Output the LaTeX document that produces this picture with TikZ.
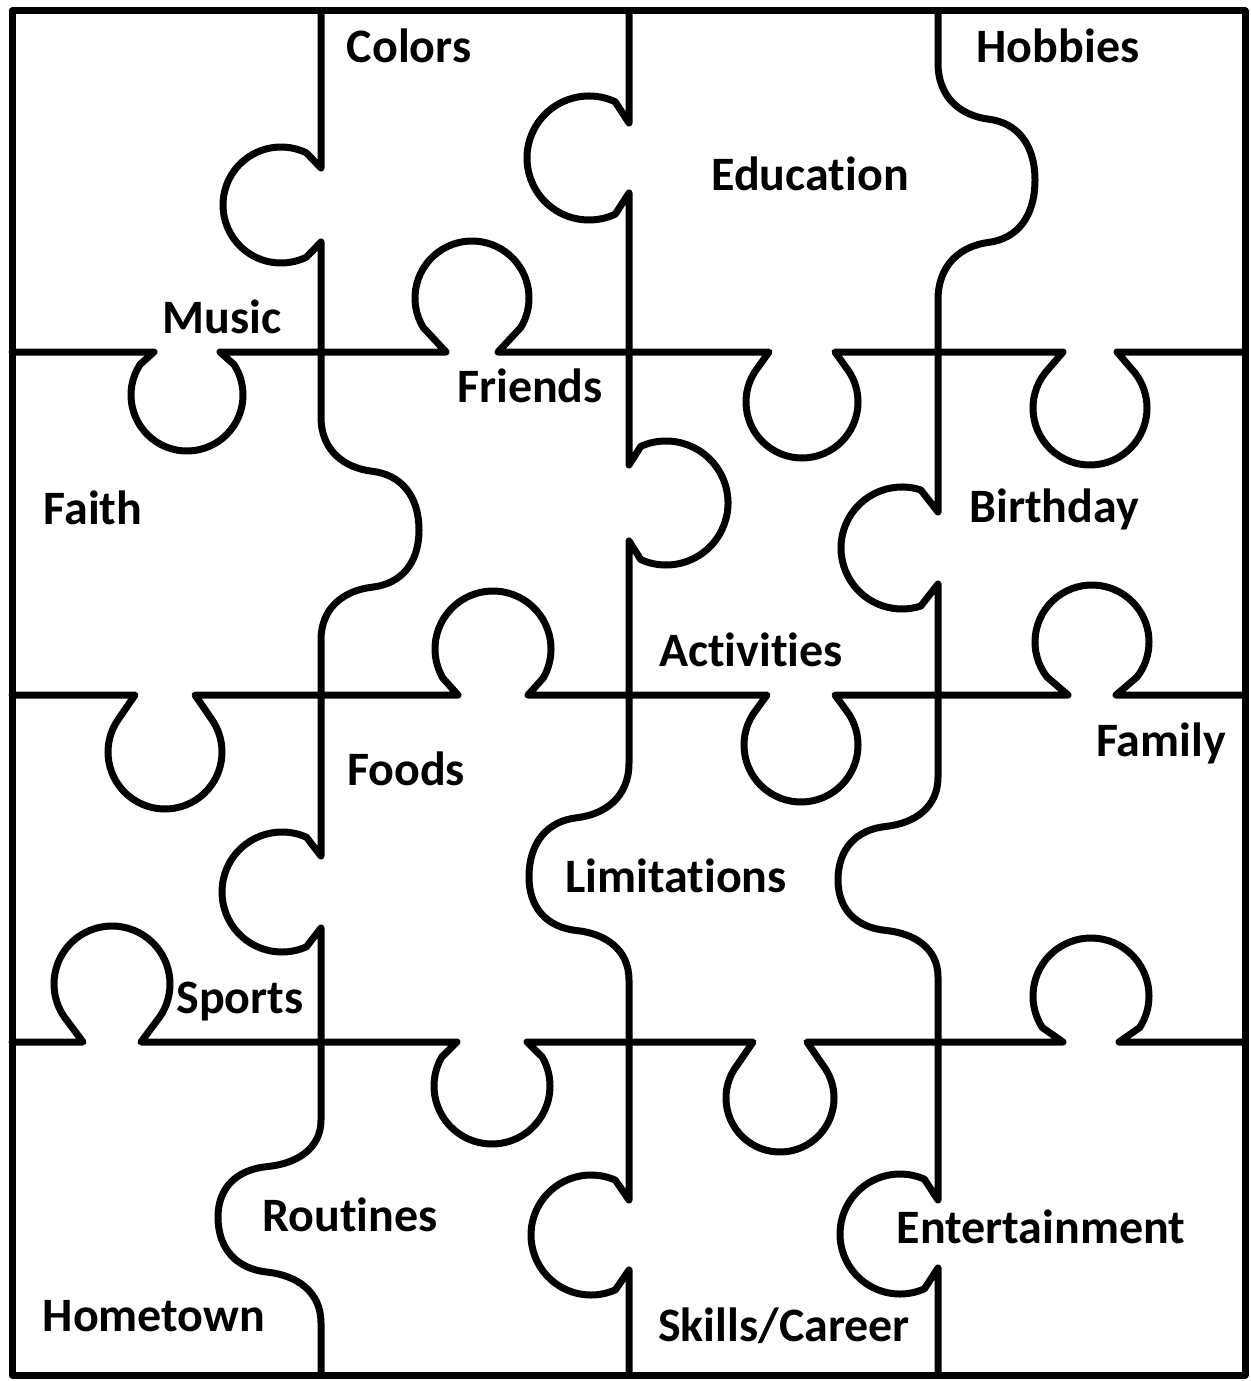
\documentclass[tikz,border=0pt]{standalone}
\usepackage{fontspec}
\setmainfont{Carlito}[Ligatures={NoCommon}]
% knob on a horizontal line: centre, line y, d, r, phi, w
\newcommand{\pzU}[6]{-- ({#1-#6},#2) -- ({#1-#4*sin(#5)},{#2-#3+#4*cos(#5)}) arc[start angle={90+#5}, end angle={450-#5}, radius=#4] -- ({#1+#6},#2)}
\newcommand{\pzD}[6]{-- ({#1-#6},#2) -- ({#1-#4*sin(#5)},{#2+#3-#4*cos(#5)}) arc[start angle={270-#5}, end angle={#5-90}, radius=#4] -- ({#1+#6},#2)}
% knob on a vertical line: centre y, line x, d, r, phi, w
\newcommand{\pzL}[6]{-- (#2,{#1-#6}) -- ({#2-#3+#4*cos(#5)},{#1-#4*sin(#5)}) arc[start angle={-#5}, end angle={#5-360}, radius=#4] -- (#2,{#1+#6})}
\newcommand{\pzR}[6]{-- (#2,{#1-#6}) -- ({#2+#3-#4*cos(#5)},{#1-#4*sin(#5)}) arc[start angle={180+#5}, end angle={540-#5}, radius=#4] -- (#2,{#1+#6})}
% wave on a vertical line: line x, centre y, signed amplitude, top, bottom
\newcommand{\pzW}[5]{-- (#1,{#2-#4})
 .. controls +(0,{0.3*#4}) and +({-0.28*#3},{-0.03*#4}) .. ({#1+0.52*#3},{#2-0.52*#4})
 .. controls +({0.3*#3},{0.03*#4}) and +(0,{-0.3*#4}) .. ({#1+#3},#2)
 .. controls +(0,{0.3*#5}) and +({0.3*#3},{-0.03*#5}) .. ({#1+0.52*#3},{#2+0.52*#5})
 .. controls +({-0.28*#3},{0.03*#5}) and +(0,{-0.3*#5}) .. (#1,{#2+#5})}
\tikzset{
 pzline/.style={line width=7pt, line join=round, line cap=round, black},
 lbl/.style={font=\fontsize{48}{56}\selectfont\bfseries, anchor=base, inner sep=0pt}
}
\begin{document}
\begin{tikzpicture}[x=1pt,y=-1pt]
\useasboundingbox (0,0) rectangle (1250,1381);
\fill[white] (0,0) rectangle (1250,1381);
% frame
\draw[pzline] (12,11) rectangle (1245,1375);
% horizontal seams
\draw[pzline] (12,352) \pzD{187}{352}{43}{56}{57}{33} \pzU{472}{352}{54}{57}{59}{26} \pzD{802}{352}{50}{56}{57}{33} \pzD{1090}{352}{56}{57}{52}{27} -- (1245,352);
\draw[pzline] (12,695) \pzD{165}{695}{57}{57}{55}{30} \pzU{493}{695}{46}{58}{60}{35} \pzD{801}{695}{50}{57}{57}{34} \pzU{1092}{695}{53}{57}{52}{24} -- (1245,695);
\draw[pzline] (12,1042) \pzU{112}{1042}{58}{58}{50}{29} \pzD{492}{1042}{44}{58}{60}{35} \pzD{780}{1042}{56}{54}{52}{27} \pzU{1091}{1042}{46}{58}{57}{28} -- (1245,1042);
% vertical seams
\draw[pzline] (321,11) \pzL{205}{321}{40}{58}{64}{37} \pzW{321}{530}{98}{113}{110} \pzL{892}{321}{39}{60}{66}{36} \pzW{321}{1217}{-103}{97}{106} -- (321,1375);
\draw[pzline] (629,11) \pzL{158}{629}{40}{62}{65}{35} \pzR{503}{629}{37}{62}{66}{38} \pzW{629}{877}{-100}{114}{103} \pzL{1235}{629}{38}{60}{66}{35} -- (629,1375);
\draw[pzline] (938,11) \pzW{938}{180}{97}{117}{120} \pzL{548}{938}{36}{61}{72}{36} \pzW{938}{880}{-100}{103}{97} \pzL{1234}{938}{38}{60}{66}{34} -- (938,1375);
% labels
\node[lbl] (colors) at (409,63) {Colors};
\node[lbl] (hobbies) at (1058,63) {Hobbies};
\node[lbl] (education) at (810,190) {Education};
\node[lbl] (music) at (222,333) {Music};
\node[lbl] (friends) at (530,402) {Friends};
\node[lbl] (faith) at (93,524) {Faith};
\node[lbl] (birthday) at (1054,522) {Birthday};
\node[lbl] (activities) at (751,666) {Activities};
\node[lbl] (family) at (1161,756) {Family};
\node[lbl] (foods) at (406,785) {Foods};
\node[lbl] (limitations) at (676,892) {Limitations};
\node[lbl] (sports) at (240,1013) {Sports};
\node[lbl] (routines) at (350,1231) {Routines};
\node[lbl] (entertainment) at (1041,1243) {Entertainment};
\node[lbl] (hometown) at (154,1331) {Hometown};
\node[lbl] (skills) at (784,1341) {Skills/Career};
\end{tikzpicture}
\end{document}
